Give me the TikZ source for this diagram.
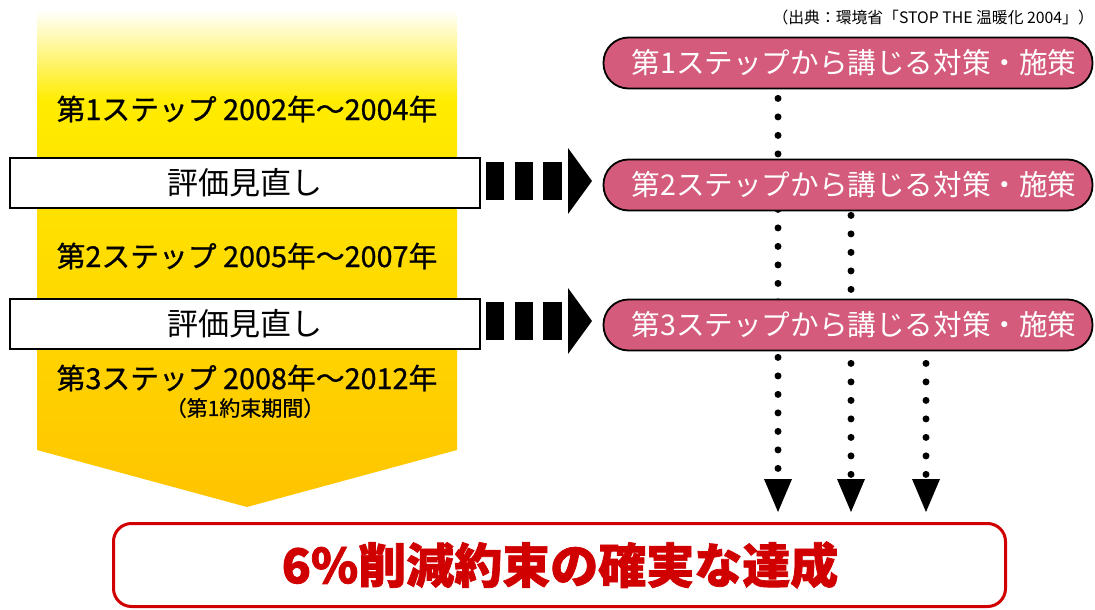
\documentclass[tikz,border=0pt]{standalone}
\usepackage{fontspec}
\setmainfont{Noto Sans CJK JP}
\newfontfamily\stepjp{Noto Sans CJK JP}[FakeBold=0.8]
\newfontfamily\heavyjp{Noto Sans CJK JP}[BoldFeatures={FakeBold=1.5}]
\definecolor{ylw}{HTML}{FFEC00}
\definecolor{org}{HTML}{FFC400}
\definecolor{pinkf}{HTML}{D45B7B}
\definecolor{redc}{HTML}{D00000}
\pgfdeclarelayer{bg}
\pgfsetlayers{bg,main}
\tikzset{
  steptext/.style={font=\stepjp\fontsize{28.8}{29}\selectfont, inner sep=0pt},
  subtext/.style={font=\stepjp\fontsize{21}{21}\selectfont, inner sep=0pt},
  evalbox/.style={draw=black, line width=1.5pt, fill=white, minimum width=470pt, minimum height=50pt, inner sep=0pt, font=\fontsize{31}{31}\selectfont},
  pinkbox/.style={draw=black, line width=1.8pt, fill=pinkf, rounded corners=25pt, minimum width=489pt, minimum height=51pt, inner sep=0pt},
  pinktext/.style={text=white, inner sep=0pt, font=\fontsize{28.6}{29}\selectfont},
  goalbox/.style={draw=redc, line width=3pt, fill=white, rounded corners=18pt, minimum width=892pt, minimum height=83pt, inner sep=0pt},
  goaltext/.style={inner sep=0pt, text=redc, font=\heavyjp\bfseries\fontsize{48}{48}\selectfont},
  dotline/.style={line width=7pt, line cap=round, dash pattern=on 0pt off 18.5pt},
  srctext/.style={font=\fontsize{15.8}{16}\selectfont, inner sep=0pt, anchor=east}
}
\begin{document}
\begin{tikzpicture}[x=1pt,y=-1pt]
\useasboundingbox (0,0) rectangle (1095,610);
% big yellow arrow
\shade[top color=white, bottom color=ylw] (37,10) rectangle (457,100.5);
\shade[top color=ylw, bottom color=org] (37,100) -- (457,100) -- (457,450) -- (247,507) -- (37,450) -- cycle;
% step texts
\node[steptext] (s1) at (247,109) {第1ステップ 2002年〜2004年};
\node[steptext] (s2) at (247,256) {第2ステップ 2005年〜2007年};
\node[steptext] (s3) at (247,378) {第3ステップ 2008年〜2012年};
\node[subtext] (s3b) at (245,408) {（第1約束期間）};
% evaluation boxes
\node[evalbox] (e1) at (245,183) {評価見直し};
\node[evalbox] (e2) at (245,324) {評価見直し};
% block arrows
\foreach \yy in {181,321}{
  \fill (486,\yy-19) rectangle (504,\yy+19);
  \fill (515,\yy-19) rectangle (533,\yy+19);
  \fill (543,\yy-19) rectangle (562,\yy+19);
  \fill (568,\yy-33) -- (592,\yy) -- (568,\yy+33) -- cycle;
}
% source
\node[srctext] (src) at (1094,17) {（出典：環境省「STOP THE 温暖化 2004」）};
% pink boxes
\node[pinkbox] (p1) at (848,63) {};
\node[pinkbox] (p2) at (848,185) {};
\node[pinkbox] (p3) at (848,325) {};
\node[pinktext] (t1) at ([xshift=6pt]p1.center) {第1ステップから講じる対策・施策};
\node[pinktext] (t2) at ([xshift=6pt]p2.center) {第2ステップから講じる対策・施策};
\node[pinktext] (t3) at ([xshift=6pt]p3.center) {第3ステップから講じる対策・施策};
% goal
\node[goalbox] (g) at (559.5,565) {};
\node[goaltext] (gt) at (560,565) {6\%削減約束の確実な達成};
% dotted connectors
\coordinate (c1) at (778,470);
\coordinate (c2) at (851,476);
\coordinate (c3) at (926,476);
\begin{pgfonlayer}{bg}
\draw[dotline, shorten <=9pt] (p1.south -| c1) -- (c1);
\draw[dotline, shorten <=4pt] (p2.south -| c2) -- (c2);
\draw[dotline, shorten <=12pt] (p3.south -| c3) -- (c3);
\end{pgfonlayer}
\foreach \c in {c1,c2,c3}{
  \fill (g.north -| \c) ++(0,-10) -- ++(-14,-33) -- ++(28,0) -- cycle;
}
\end{tikzpicture}
\end{document}
